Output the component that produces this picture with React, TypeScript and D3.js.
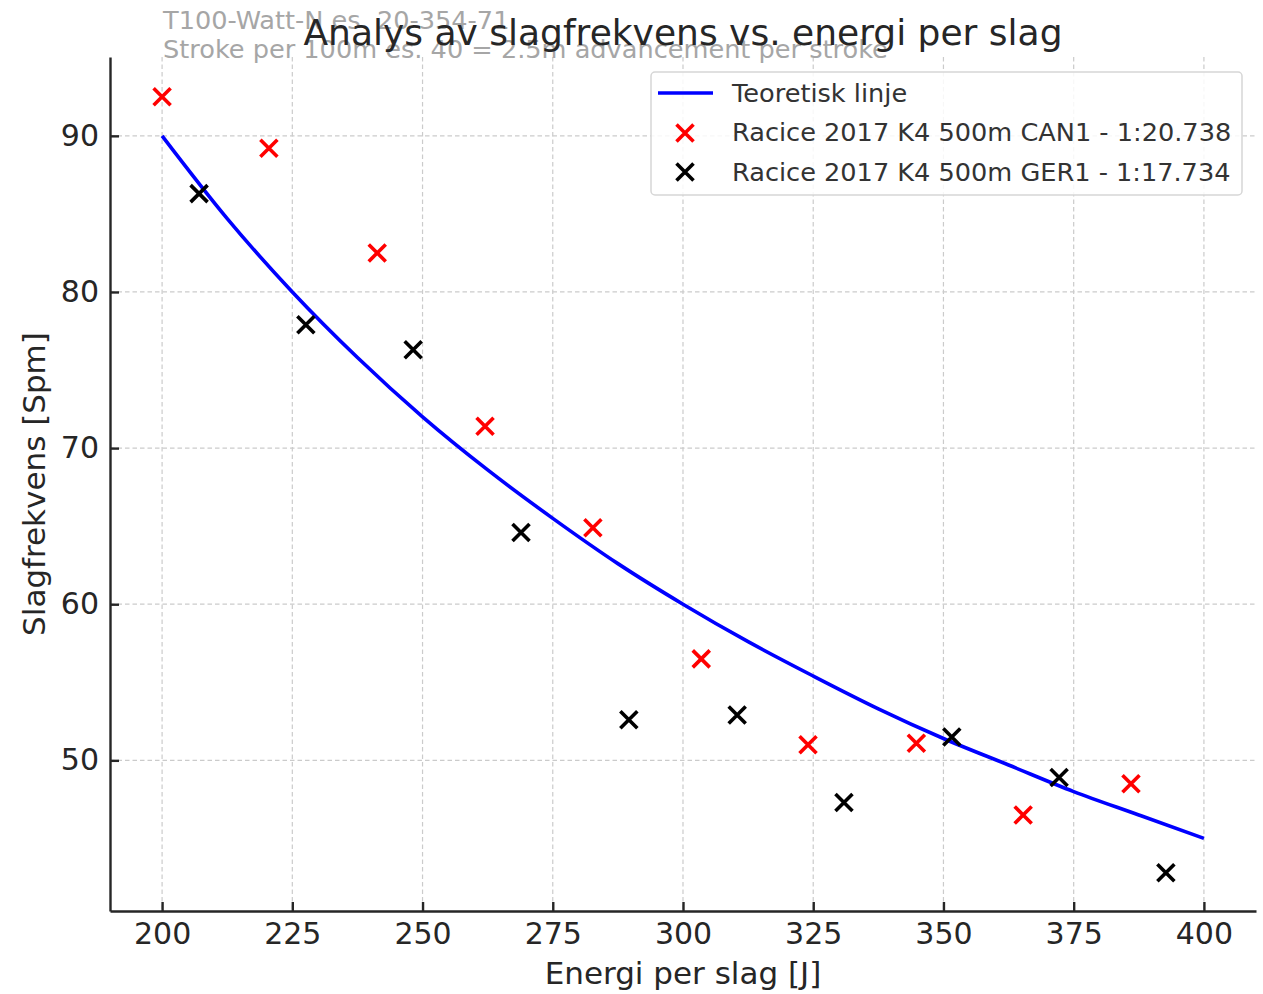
import React, { useEffect, useRef } from 'react';
import * as d3 from 'd3';

// Teoretisk linje
const theoryEnergy = [200, 212.5, 225, 237.5, 250, 262.5, 275, 287.5, 300, 312.5, 325, 337.5, 350, 362.5, 375, 387.5, 400];
const theoryRate = [90, 84.7, 80, 75.8, 72, 68.6, 65.5, 62.6, 60, 57.6, 55.4, 53.3, 51.4, 49.7, 48, 46.5, 45];

// Racice 2017 K4 500m CAN1
const canEnergy = [200, 220.5, 241.3, 262, 282.7, 303.5, 324, 344.8, 365.3, 386];
const canRate = [92.5, 89.2, 82.5, 71.4, 64.9, 56.5, 51.0, 51.1, 46.5, 48.5];

// Racice 2017 K4 500m GER1
const gerEnergy = [207.1, 227.6, 248.2, 268.9, 289.6, 310.4, 330.9, 351.6, 372.2, 392.7];
const gerRate = [86.3, 77.9, 76.3, 64.6, 52.6, 52.9, 47.3, 51.5, 48.9, 42.8];

const xTicks = [200, 225, 250, 275, 300, 325, 350, 375, 400];
const yTicks = [50, 60, 70, 80, 90];

const legendLabels = [
  'Teoretisk linje',
  'Racice 2017 K4 500m CAN1 - 1:20.738',
  'Racice 2017 K4 500m GER1 - 1:17.734',
];

const svgWidth = 1263;
const svgHeight = 994;
const margin = { top: 57, right: 7, bottom: 83, left: 110 };
const font = 'DejaVu Sans, sans-serif';
const ink = '#262626';

const App = () => {
  const ref = useRef<SVGSVGElement>(null);

  useEffect(() => {
    const svg = d3.select(ref.current);
    svg.selectAll('*').remove();

    const width = svgWidth - margin.left - margin.right;
    const height = svgHeight - margin.top - margin.bottom;

    const g = svg.append('g').attr('transform', `translate(${margin.left},${margin.top})`);

    const x = d3.scaleLinear().domain([190, 410]).range([0, width]);
    const y = d3.scaleLinear().domain([40.35, 95.05]).range([height, 0]);

    // grid
    g.selectAll('line.gx').data(xTicks).enter().append('line')
      .attr('x1', d => x(d)).attr('x2', d => x(d)).attr('y1', 0).attr('y2', height)
      .attr('stroke', '#cbcbcb').attr('stroke-width', 1.2).attr('stroke-dasharray', '4.5,3');
    g.selectAll('line.gy').data(yTicks).enter().append('line')
      .attr('y1', d => y(d)).attr('y2', d => y(d)).attr('x1', 0).attr('x2', width)
      .attr('stroke', '#cbcbcb').attr('stroke-width', 1.2).attr('stroke-dasharray', '4.5,3');

    // axes
    const xAxis = d3.axisBottom(x).tickValues(xTicks).tickSizeInner(-9).tickSizeOuter(0).tickPadding(12);
    const yAxis = d3.axisLeft(y).tickValues(yTicks).tickSizeInner(-9).tickSizeOuter(0).tickPadding(11);

    const gx = g.append('g').attr('transform', `translate(0,${height})`).call(xAxis);
    const gy = g.append('g').call(yAxis);
    [gx, gy].forEach(a => {
      a.select('.domain').attr('stroke', ink).attr('stroke-width', 2.4);
      a.selectAll('.tick line').attr('stroke', ink).attr('stroke-width', 2.4);
      a.selectAll('.tick text').attr('fill', ink).attr('font-family', font).attr('font-size', 30);
    });
    gx.selectAll('.tick text').attr('dy', '0.71em');

    // theoretical line
    const line = d3.line<number>()
      .x((d, i) => x(theoryEnergy[i]))
      .y(d => y(d))
      .curve(d3.curveMonotoneX);
    g.append('path').datum(theoryRate)
      .attr('d', line).attr('fill', 'none').attr('stroke', '#0000ff').attr('stroke-width', 3.6);

    const s = 8.5;
    const drawX = (sel: any, cx: number, cy: number, color: string) => {
      sel.append('path')
        .attr('d', `M${cx - s},${cy - s}L${cx + s},${cy + s}M${cx - s},${cy + s}L${cx + s},${cy - s}`)
        .attr('stroke', color).attr('stroke-width', 3.6).attr('fill', 'none');
    };

    canEnergy.forEach((e, i) => drawX(g, x(e), y(canRate[i]), '#ff0000'));
    gerEnergy.forEach((e, i) => drawX(g, x(gerEnergy[i]), y(gerRate[i]), '#000000'));

    // legend
    const lg = svg.append('g').attr('transform', 'translate(651,72)');
    lg.append('rect').attr('width', 591).attr('height', 123).attr('rx', 4)
      .attr('fill', 'white').attr('fill-opacity', 0.85).attr('stroke', '#d6d6d6').attr('stroke-width', 1.5);
    lg.append('line').attr('x1', 7).attr('x2', 62).attr('y1', 21).attr('y2', 21)
      .attr('stroke', '#0000ff').attr('stroke-width', 3.6);
    drawX(lg, 34, 61, '#ff0000');
    drawX(lg, 34, 100, '#000000');
    legendLabels.forEach((t, i) => {
      lg.append('text').attr('x', 81).attr('y', 21 + i * 39.5).attr('dy', '0.35em')
        .attr('font-family', font).attr('font-size', 25.6).attr('fill', '#333').text(t);
    });

    // axis labels
    svg.append('text').attr('x', margin.left + width / 2).attr('y', 984)
      .attr('text-anchor', 'middle').attr('font-family', font).attr('font-size', 31).attr('fill', ink)
      .text('Energi per slag [J]');
    svg.append('text').attr('transform', `translate(45,${margin.top + height / 2}) rotate(-90)`)
      .attr('text-anchor', 'middle').attr('font-family', font).attr('font-size', 31).attr('fill', ink)
      .text('Slagfrekvens [Spm]');

    // annotation + title
    svg.append('text').attr('x', 163).attr('y', 29)
      .attr('font-family', font).attr('font-size', 25.6).attr('fill', '#a6a6a6')
      .text('T100-Watt-N es. 20-354-71');
    svg.append('text').attr('x', 163).attr('y', 58)
      .attr('font-family', font).attr('font-size', 25.6).attr('fill', '#a6a6a6')
      .text('Stroke per 100m es. 40 = 2.5m advancement per stroke');
    svg.append('text').attr('x', margin.left + width / 2).attr('y', 45)
      .attr('text-anchor', 'middle').attr('font-family', font).attr('font-size', 36).attr('fill', ink)
      .text('Analys av slagfrekvens vs. energi per slag');
  }, []);

  return (
    <svg ref={ref} width={svgWidth} height={svgHeight}
      style={{ position: 'absolute', left: 0, top: 0, background: 'white' }} />
  );
};

export default App;
